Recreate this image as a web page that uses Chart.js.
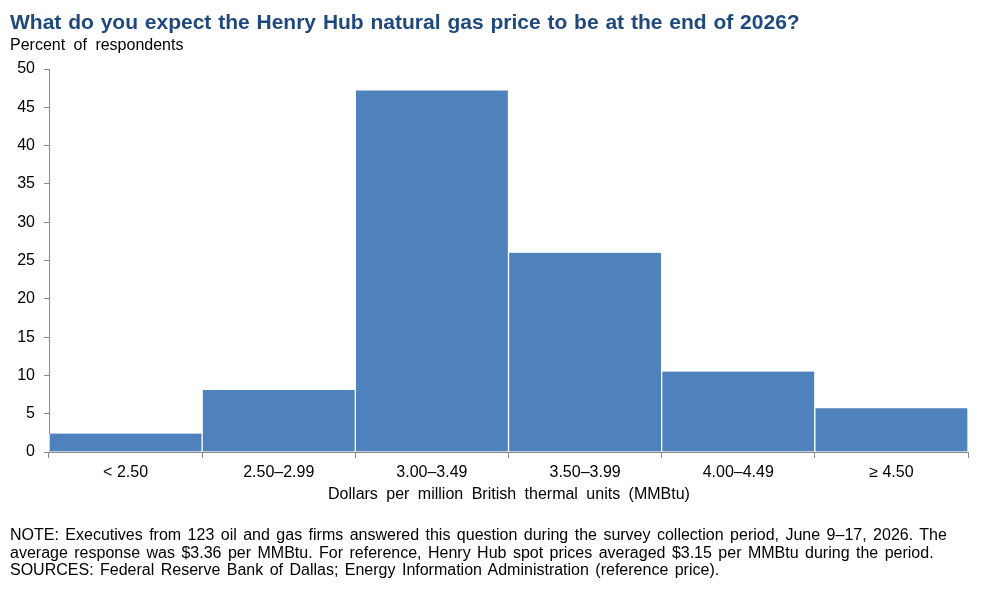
<!DOCTYPE html>
<html>
<head>
<meta charset="utf-8">
<script src="https://cdn.jsdelivr.net/npm/chart.js@4"></script>
<style>
  body { margin: 0; background: #fff; font-family: "Liberation Sans", Arial, sans-serif; }
  #wrap { position: relative; width: 997px; height: 589px; }
  #chart { position: absolute; left: 0; top: 0; }
  .txt { position: absolute; white-space: nowrap; color: #000; }
  #title { left: 10px; top: 10px; font-size: 21px; font-weight: bold; color: #1F497D; word-spacing: 1px; }
  #ylab { left: 10px; top: 36px; font-size: 16px; word-spacing: 4px; }
  #xlab { left: 0; width: 1018px; top: 485px; font-size: 16px; word-spacing: 4px; text-align: center; }
  #note { left: 10px; top: 526px; font-size: 16px; line-height: 17.5px; word-spacing: 2px; }
</style>
</head>
<body>
<div id="wrap">
  <canvas id="chart" width="997" height="589"></canvas>
  <div class="txt" id="title">What do you expect the Henry Hub natural gas price to be at the end of 2026?</div>
  <div class="txt" id="ylab">Percent of respondents</div>
  <div class="txt" id="xlab">Dollars per million British thermal units (MMBtu)</div>
  <div class="txt" id="note">NOTE: Executives from 123 oil and gas firms answered this question during the survey collection period, June 9–17, 2026. The<br>average response was $3.36 per MMBtu. For reference, Henry Hub spot prices averaged $3.15 per MMBtu during the period.<br>SOURCES: Federal Reserve Bank of Dallas; Energy Information Administration (reference price).</div>
</div>
<script>
const categories = ['< 2.50', '2.50–2.99', '3.00–3.49', '3.50–3.99', '4.00–4.49', '≥ 4.50'];
const shares = [2.4, 8.1, 47.2, 26.0, 10.5, 5.7];
const yTicks = [0, 5, 10, 15, 20, 25, 30, 35, 40, 45, 50];

const axisGrey = '#898989';
const font = { family: '"Liberation Sans", Arial, sans-serif', size: 16 };

new Chart(document.getElementById('chart'), {
  type: 'bar',
  data: {
    labels: categories,
    datasets: [{
      data: shares,
      backgroundColor: '#4F81BD',
      borderColor: '#ffffff',
      borderWidth: { left: 1, right: 1, top: 0, bottom: 0 },
      borderSkipped: false,
      barPercentage: 1,
      categoryPercentage: 1,
    }],
  },
  options: {
    responsive: false,
    animation: false,
    layout: { padding: { left: 0, top: 69, right: 29, bottom: 86 } },
    plugins: { legend: { display: false }, tooltip: { enabled: false } },
    scales: {
      x: {
        grid: { offset: true, drawOnChartArea: false, tickLength: 6, color: axisGrey },
        border: { color: axisGrey, width: 1 },
        ticks: { color: '#000', font: font, padding: 5, maxRotation: 0 },
        afterFit: s => { s.height = 51; },
      },
      y: {
        min: 0,
        max: 50,
        z: 1,
        afterBuildTicks: s => { s.ticks = yTicks.map(v => ({ value: v })); },
        grid: { drawOnChartArea: false, tickLength: 5, color: axisGrey },
        border: { color: axisGrey, width: 1 },
        ticks: { color: '#000', font: font, padding: 9 },
        afterFit: s => { s.width = 49; },
      },
    },
  },
});
</script>
</body>
</html>
